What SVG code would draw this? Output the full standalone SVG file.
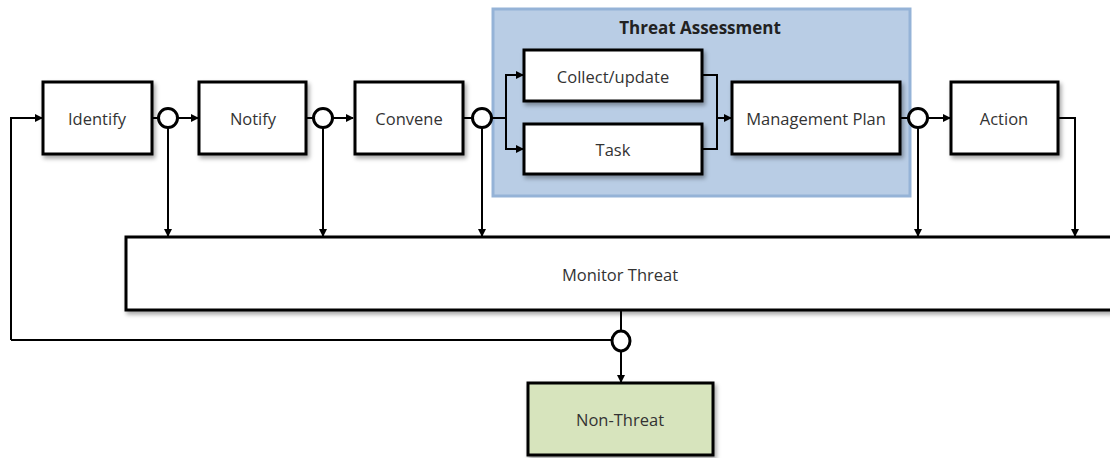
<svg xmlns="http://www.w3.org/2000/svg" width="1110" height="458" viewBox="0 0 1110 458">
<defs>
<marker id="arr" markerWidth="8" markerHeight="8" refX="7" refY="4" orient="auto" markerUnits="userSpaceOnUse">
<path d="M0,0 L8,4 L0,8 Z" fill="#000"/>
</marker>
<filter id="sh" x="-10%" y="-10%" width="130%" height="140%">
<feDropShadow dx="2" dy="3" stdDeviation="2" flood-color="#000" flood-opacity="0.35"/>
</filter>
</defs>
<style>
.box{fill:#fff;stroke:#000;stroke-width:3;filter:url(#sh)}
.lbl{font-family:"Open Sans","Noto Sans",sans-serif;font-size:16.5px;fill:#333;text-anchor:middle;dominant-baseline:central}
.ln{fill:none;stroke:#000;stroke-width:2}
.cir{fill:#fff;stroke:#000;stroke-width:3}
</style>
<rect width="1110" height="458" fill="#fff"/>
<g id="threat-assessment">
<rect x="493" y="9" width="417" height="187" fill="#b9cde5" stroke="#95b3d7" stroke-width="3"/>
<text x="700" y="27" class="lbl" style="font-weight:bold;fill:#222;font-size:17px">Threat Assessment</text>
</g>
<g id="connectors">
<path class="ln" d="M11,340 L11,118 L42,118" marker-end="url(#arr)"/>
<path class="ln" d="M152,118 L158,118"/>
<path class="ln" d="M178,118 L198,118" marker-end="url(#arr)"/>
<path class="ln" d="M306,118 L313,118"/>
<path class="ln" d="M333,118 L353,118" marker-end="url(#arr)"/>
<path class="ln" d="M463,118 L472,118"/>
<path class="ln" d="M492,118 L506,118"/>
<path class="ln" d="M523,75 L506,75 L506,149 L523,149" marker-end="url(#arr)"/>
<path class="ln" d="M506,75 L523,75" marker-end="url(#arr)"/>
<path class="ln" d="M702,75 L717,75 L717,149 L702,149"/>
<path class="ln" d="M717,118 L731,118" marker-end="url(#arr)"/>
<path class="ln" d="M900,118 L908,118"/>
<path class="ln" d="M928,118 L950,118" marker-end="url(#arr)"/>
<path class="ln" d="M1058,118 L1075,118 L1075,236" marker-end="url(#arr)"/>
<path class="ln" d="M168,128 L168,236" marker-end="url(#arr)"/>
<path class="ln" d="M323,128 L323,236" marker-end="url(#arr)"/>
<path class="ln" d="M482,128 L482,236" marker-end="url(#arr)"/>
<path class="ln" d="M918,128 L918,236" marker-end="url(#arr)"/>
<path class="ln" d="M621,310 L621,331"/>
<path class="ln" d="M11,340 L612,340"/>
<path class="ln" d="M621,351 L621,382" marker-end="url(#arr)"/>
<circle class="cir" cx="168" cy="118" r="9.5"/>
<circle class="cir" cx="323" cy="118" r="9.5"/>
<circle class="cir" cx="482" cy="118" r="9.5"/>
<circle class="cir" cx="918" cy="118" r="9.5"/>
<ellipse class="cir" cx="621" cy="341" rx="9" ry="10"/>
</g>
<g id="identify">
<rect class="box" x="43" y="82" width="109" height="72"/>
<text class="lbl" x="97" y="118">Identify</text>
</g>
<g id="notify">
<rect class="box" x="199" y="82" width="107" height="72"/>
<text class="lbl" x="253" y="118">Notify</text>
</g>
<g id="convene">
<rect class="box" x="355" y="82" width="108" height="72"/>
<text class="lbl" x="409" y="118">Convene</text>
</g>
<g id="collect-update">
<rect class="box" x="524" y="50" width="178" height="51"/>
<text class="lbl" x="613" y="76">Collect/update</text>
</g>
<g id="task">
<rect class="box" x="524" y="124" width="178" height="50"/>
<text class="lbl" x="613" y="149">Task</text>
</g>
<g id="management-plan">
<rect class="box" x="732" y="82" width="168" height="72"/>
<text class="lbl" x="816" y="118">Management Plan</text>
</g>
<g id="action">
<rect class="box" x="951" y="82" width="107" height="72"/>
<text class="lbl" x="1004" y="118">Action</text>
</g>
<g id="monitor-threat">
<rect class="box" x="126" y="237" width="1000" height="73"/>
<text class="lbl" x="620" y="274">Monitor Threat</text>
</g>
<g id="non-threat">
<rect class="box" x="528" y="383" width="185" height="72" style="fill:#d7e4bd"/>
<text class="lbl" x="620" y="419">Non-Threat</text>
</g>
</svg>
